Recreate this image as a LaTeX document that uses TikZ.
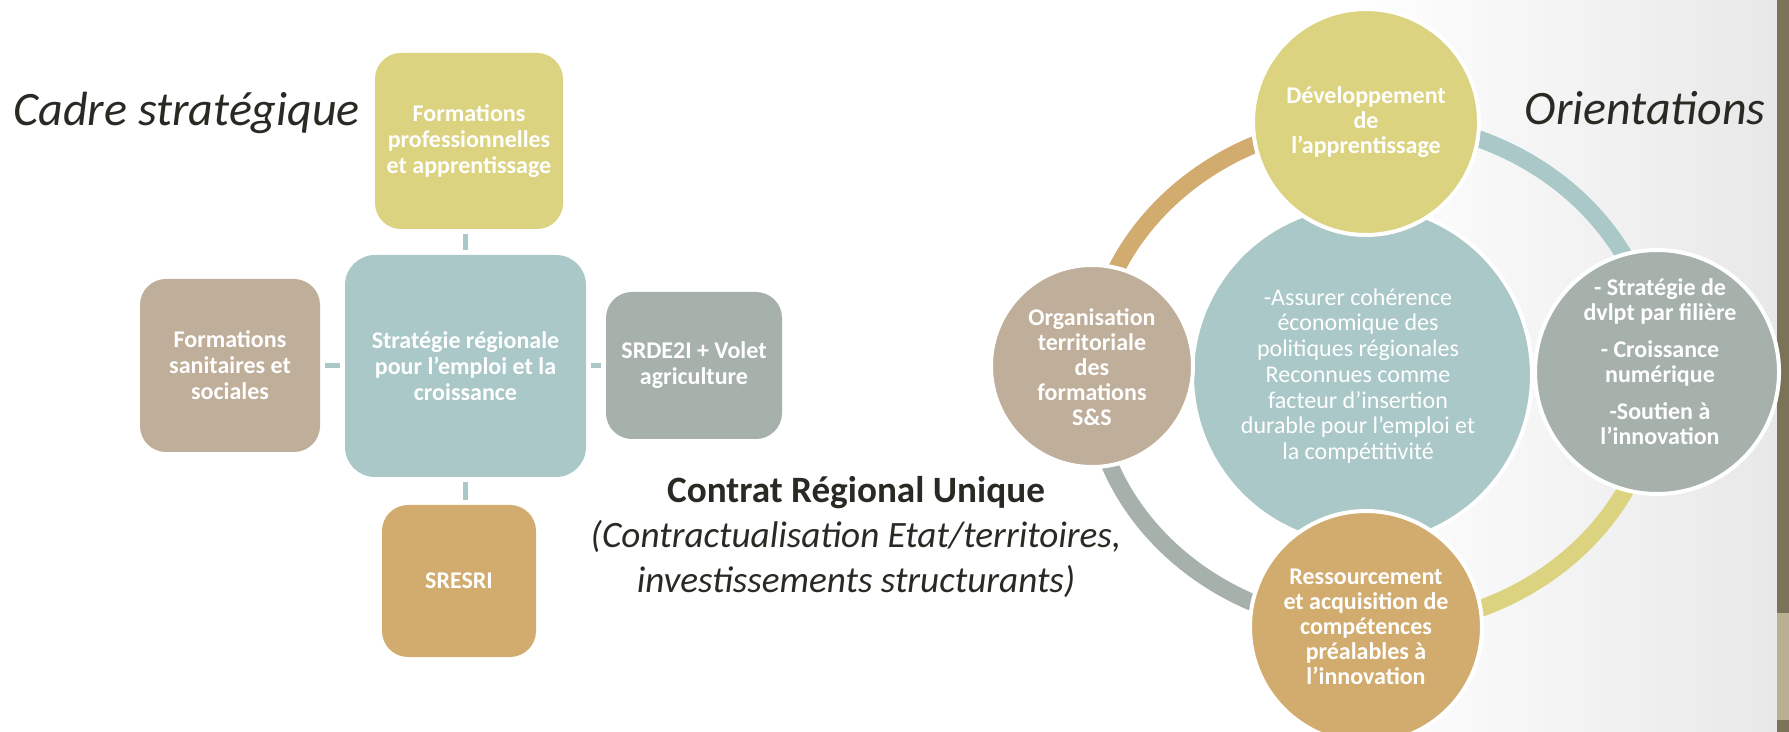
\documentclass[tikz,border=0pt]{standalone}
\usepackage{fontspec}
\setmainfont{Carlito}
\definecolor{cyel}{HTML}{DBD37F}
\definecolor{cteal}{HTML}{AAC8C8}
\definecolor{ctan}{HTML}{BFAE99}
\definecolor{cgray}{HTML}{A6B1AC}
\definecolor{corange}{HTML}{D2AC6E}
\definecolor{cdark}{HTML}{2B2923}
\definecolor{cstrip}{HTML}{7B7358}
\definecolor{cstripl}{HTML}{B8B08E}
\begin{document}
\begin{tikzpicture}[x=0.5pt,y=-0.5pt,
  box/.style={rounded corners=13pt, inner sep=0pt, align=center, text=white,
    font=\fontsize{12}{13}\selectfont\bfseries},
  conn/.style={draw=cteal, line width=2.5pt, shorten <=2.5pt, shorten >=2.5pt},
  orb/.style={circle, draw=white, line width=2pt, inner sep=0pt},
  orbtext/.style={align=center, text=white, inner sep=0pt,
    font=\fontsize{12}{12.5}\selectfont\bfseries},
  ringarc/.style={line width=8.5pt},
  title/.style={text=cdark, font=\fontsize{24}{29}\selectfont\itshape, inner sep=0pt}
]
\useasboundingbox (0,0) rectangle (1789,732);
\fill[white] (0,0) rectangle (1789,732);
\shade[left color=white, right color=black!9] (1350,0) rectangle (1777,732);
\fill[cstrip] (1777,0) rectangle (1789,732);
\fill[cstripl] (1777,613) rectangle (1789,720);

% ---------- left part ----------
\node[title, anchor=base west] (cs) at (13,126) {Cadre stratégique};

\node[box, fill=cyel, minimum width=94pt, minimum height=88pt] (fp) at (469,141)
  {Formations\\professionnelles\\et apprentissage};
\node[box, fill=cteal, rounded corners=15pt, minimum width=120.5pt, minimum height=111pt] (sr) at (465.5,366)
  {Stratégie régionale\\pour l’emploi et la\\croissance};
\node[box, fill=ctan, minimum width=90pt, minimum height=86.5pt] (ss) at (230,365.5)
  {Formations\\sanitaires et\\sociales};
\node[box, fill=cgray, minimum width=88pt, minimum height=73.5pt] (sd) at (694,365.5)
  {SRDE2I + Volet\\agriculture};
\node[box, fill=corange, minimum width=77pt, minimum height=76pt] (sb) at (459,581)
  {SRESRI};

\draw[conn] (sr.north) -- (sr.north |- fp.south);
\draw[conn] (sr.south) -- (sr.south |- sb.north);
\draw[conn] (sr.west) -- (sr.west -| ss.east);
\draw[conn] (sr.east) -- (sr.east -| sd.west);

\node[text=cdark, align=center, inner sep=0pt, font=\fontsize{18.6}{22.5}\selectfont] (cru) at (856,537)
  {\textbf{Contrat Régional Unique}\\\textit{(Contractualisation Etat/territoires,}\\\textit{investissements structurants)}};

% ---------- right part ----------
\node[title, anchor=base east] (ori) at (1766,125) {Orientations};

\coordinate (rc) at (1374,374);
\draw[ringarc, draw=corange] (rc) ++(90:141.5pt and 126.5pt)
  arc[start angle=90, end angle=180, x radius=141.5pt, y radius=126.5pt];
\draw[ringarc, draw=cteal] (rc) ++(0:141.5pt and 126.5pt)
  arc[start angle=0, end angle=90, x radius=141.5pt, y radius=126.5pt];
\draw[ringarc, draw=cyel] (rc) ++(-90:141.5pt and 126.5pt)
  arc[start angle=-90, end angle=0, x radius=141.5pt, y radius=126.5pt];
\draw[ringarc, draw=cgray] (rc) ++(180:141.5pt and 126.5pt)
  arc[start angle=180, end angle=270, x radius=141.5pt, y radius=126.5pt];

\node[orb, fill=cteal, minimum size=170pt] (cc) at (1362,375) {};
\node[orb, fill=cyel, minimum size=113pt] (ct) at (1366,122) {};
\node[orb, fill=ctan, minimum size=101pt] (cl) at (1092,366) {};
\node[orb, fill=cgray, minimum size=122pt] (cr) at (1657,372) {};
\node[orb, fill=corange, minimum size=116pt] (cb) at (1366,627) {};

\node[orbtext, font=\fontsize{12}{12.85}\selectfont] (cct) at (1358,376)
  {-Assurer cohérence\\économique des\\politiques régionales\\Reconnues comme\\facteur d’insertion\\durable pour l’emploi et\\la compétitivité};
\node[orbtext] (ctt) at (1366,122) {Développement\\de\\l’apprentissage};
\node[orbtext] (clt) at (1092,367) {Organisation\\territoriale\\des\\formations\\S\&S};
\node[orbtext] (crt) at (1660,362)
  {- Stratégie de\\dvlpt par filière\\[6pt]- Croissance\\numérique\\[6pt]-Soutien à\\l’innovation};
\node[orbtext] (cbt) at (1366,627)
  {Ressourcement\\et acquisition de\\compétences\\préalables à\\l’innovation};
\end{tikzpicture}
\end{document}
